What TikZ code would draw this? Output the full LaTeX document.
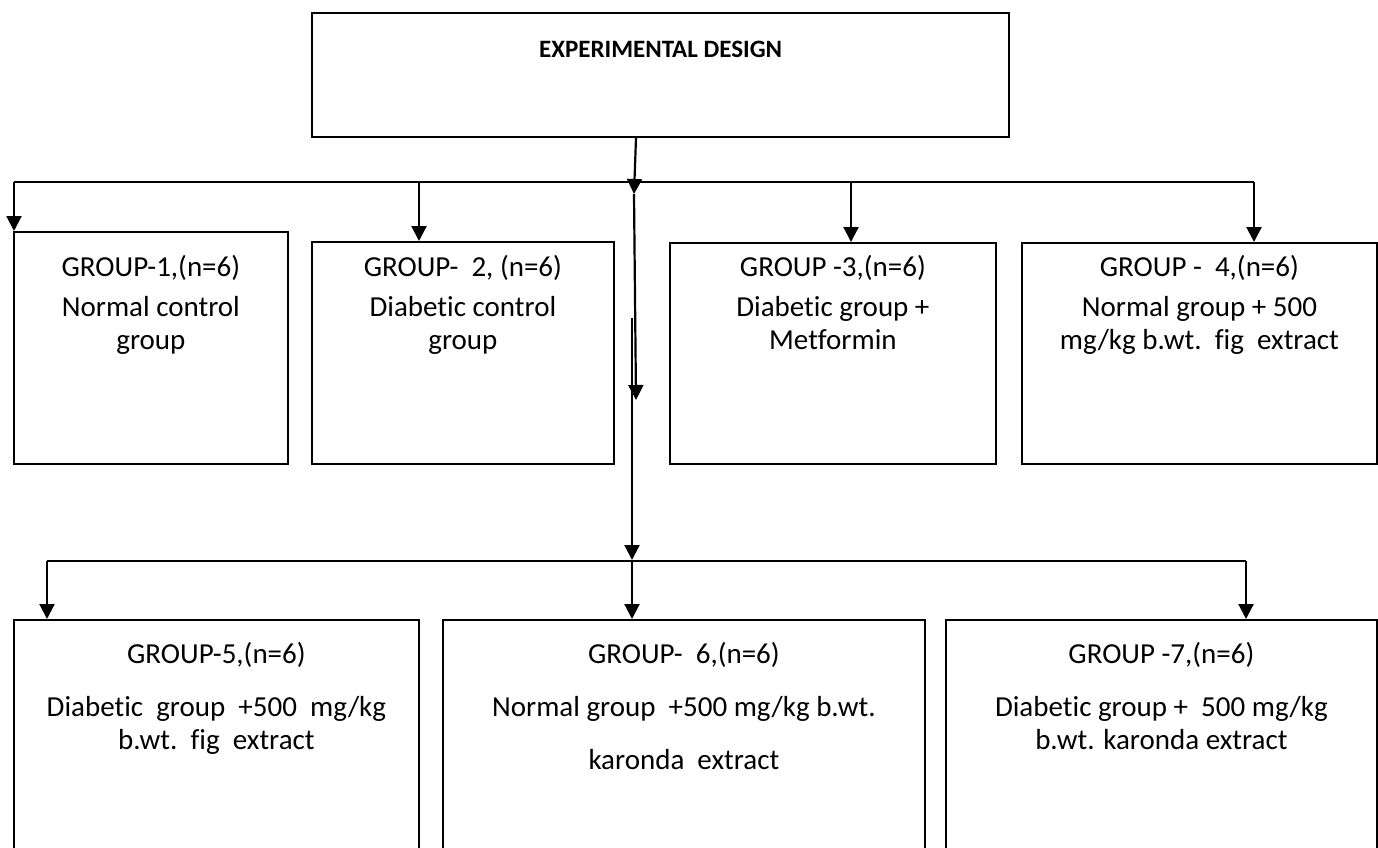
\documentclass[tikz,border=0pt]{standalone}
\usepackage{fontspec}
\setmainfont[Ligatures=NoCommon]{Carlito}
\usetikzlibrary{arrows.meta}

\begin{document}
\begin{tikzpicture}[x=1pt, y=-1pt,
          font=\fontsize{29}{33}\selectfont,
          box/.style={draw, line width=1.8pt, rectangle, anchor=north west, inner sep=0pt},
          txt/.style={anchor=north, align=center, inner sep=0pt},
          ln/.style={line width=2.2pt},
          ar/.style={ln, -{Triangle[length=15pt, width=15pt]}}]
        \useasboundingbox (0,0) rectangle (1378,848);
        % boxes
        \node[box, line width=2.2pt, minimum width=697pt, minimum height=124pt] (top) at (311,12) {};
        \node[box, minimum width=274pt, minimum height=232pt] (g1) at (13,231) {};
        \node[box, minimum width=302pt, minimum height=222pt] (g2) at (311,241) {};
        \node[box, minimum width=326pt, minimum height=221pt] (g3) at (669,242) {};
        \node[box, minimum width=355pt, minimum height=221pt] (g4) at (1021,242) {};
        \node[box, minimum width=405pt, minimum height=240pt] (g5) at (13,619) {};
        \node[box, minimum width=482pt, minimum height=240pt] (g6) at (442,619) {};
        \node[box, minimum width=431pt, minimum height=240pt] (g7) at (945,619) {};
        % texts
        \node[txt, anchor=base, font=\fontsize{25}{30}\selectfont\bfseries] (title) at (top.north |- 0,58) {EXPERIMENTAL DESIGN};
        \node[txt] (g1t) at (g1.north |- 0,255) {GROUP-1,(n=6)\\[7pt] Normal control\\ group};
        \node[txt] (g2t) at (g2.north |- 0,255) {GROUP-\ \ 2, (n=6)\\[7pt] Diabetic control\\ group};
        \node[txt] (g3t) at (g3.north |- 0,255) {GROUP -3,(n=6)\\[7pt] Diabetic group +\\ Metformin};
        \node[txt] (g4t) at (g4.north |- 0,255) {GROUP -\ \ 4,(n=6)\\[7pt] Normal group + 500\\ mg/kg b.wt.\ \ fig\ \ extract};
        \node[txt] (g5t) at (g5.north |- 0,642) {GROUP-5,(n=6)\\[20pt] Diabetic\ \ group\ \ +500\ \ mg/kg\\ b.wt.\ \ fig\ \ extract};
        \node[txt] (g6t) at (g6.north |- 0,642) {GROUP-\ \ 6,(n=6)\\[20pt] Normal group\ \ +500 mg/kg b.wt.\\[20pt] karonda\ \ extract};
        \node[txt] (g7t) at (g7.north |- 0,642) {GROUP -7,(n=6)\\[20pt] Diabetic group +\ \ 500 mg/kg\\ b.wt. karonda extract};
        % connectors
        \coordinate (h1) at (634,194);
        \coordinate (b1w) at (14,182);
        \coordinate (d2) at (419,182);
        \coordinate (d3) at (851,182);
        \coordinate (b1e) at (1254,182);
        \coordinate (m1) at (636,400);
        \coordinate (m2) at (632,318);
        \coordinate (h2) at (632,560);
        \coordinate (b2w) at (47,561);
        \coordinate (b2e) at (1246,561);
        \draw[ar] (top.south -| 636,0) -- (h1);
        \draw[ln] (b1w) -- (b1e);
        \draw[ar] (b1w) -- (b1w |- g1.north);
        \draw[ar] (d2) -- (d2 |- g2.north);
        \draw[ar] (d3) -- (d3 |- g3.north);
        \draw[ar] (b1e) -- (b1e |- g4.north);
        \draw[ar] (h1) -- (m1);
        \draw[ar] (m2) -- (h2);
        \draw[ln] (b2w) -- (b2e);
        \draw[ar] (b2w) -- (b2w |- g5.north);
        \draw[ar] (h2) -- (h2 |- g6.north);
        \draw[ar] (b2e) -- (b2e |- g7.north);
      \end{tikzpicture}
\end{document}
